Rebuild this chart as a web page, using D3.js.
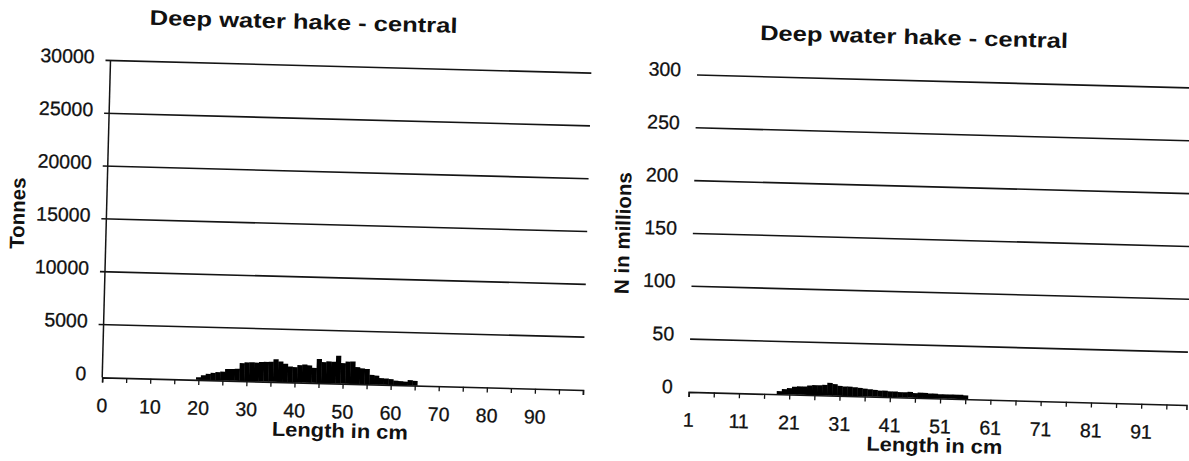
<!DOCTYPE html>
<html>
<head>
<meta charset="utf-8">
<script src="https://cdn.jsdelivr.net/npm/d3@7"></script>
<style>
  body { margin: 0; background: #fff; }
  svg { display: block; }
  text { font-family: "Liberation Sans", Arial, sans-serif; fill: #111; }
</style>
</head>
<body>
<svg id="chart" width="1189" height="461"></svg>
<script>
// Length classes (cm) and catch weight in tonnes
const tonnesLengths = d3.range(20, 66);
const tonnes = [
  250, 450, 600, 700, 780, 850, 1100, 1120, 1150, 1700,
  1780, 1800, 1780, 1850, 1880, 1900, 2150, 1950, 1750, 1500,
  1450, 1650, 1720, 1650, 1420, 2280, 2000, 2080, 2050, 2630,
  1950, 2100, 2120, 1600, 1500, 1450, 900, 850, 620, 600,
  550, 420, 380, 350, 500, 450
];

// Length classes (cm) and numbers in millions
const numbersLengths = d3.range(19, 57);
const numbers = [
  3, 5, 6, 7.5, 8, 8, 9, 9.5, 9.5, 10,
  12, 11, 9.5, 9, 9, 8.5, 8, 7.5, 7, 6.5,
  6, 6, 5.5, 5.5, 5, 5, 5.5, 4.5, 5, 5,
  4.5, 4.5, 4, 4, 4, 4, 4, 3.5
];

const tonnesTicks = [0, 5000, 10000, 15000, 20000, 25000, 30000];
const numbersTicks = [0, 50, 100, 150, 200, 250, 300];
const tonnesXLabels = [0, 10, 20, 30, 40, 50, 60, 70, 80, 90];
const numbersXLabels = [1, 11, 21, 31, 41, 51, 61, 71, 81, 91];

const svg = d3.select("#chart");
const ink = "#141414";

function drawPanel(cfg) {
  const w = cfg.width, h = cfg.height;
  const g = svg.append("g")
    .attr("transform", `translate(${cfg.x},${cfg.y}) rotate(${cfg.angle})`);

  const x = d3.scaleLinear().domain(cfg.xDomain).range([0, w]);
  const y = d3.scaleLinear().domain([0, cfg.yMax]).range([h, 0]);

  // horizontal gridlines (value axis major gridlines)
  g.append("g").selectAll("line")
    .data(cfg.yTicks.filter(d => d > 0))
    .join("line")
    .attr("x1", cfg.yAxisLine ? -5 : 0)
    .attr("x2", w)
    .attr("y1", d => y(d)).attr("y2", d => y(d))
    .attr("stroke", ink).attr("stroke-width", 1.6);

  // value axis labels
  g.append("g").selectAll("text")
    .data(cfg.yTicks)
    .join("text")
    .attr("x", -16)
    .attr("y", d => y(d) + cfg.yLabelShift)
    .attr("dy", "0.35em")
    .attr("text-anchor", "end")
    .attr("font-size", 19.5)
    .attr("stroke", "#111").attr("stroke-width", 0.3)
    .text(d => d);

  if (cfg.yAxisLine) {
    g.append("line")
      .attr("x1", 0).attr("x2", 0).attr("y1", 0).attr("y2", h)
      .attr("stroke", ink).attr("stroke-width", 1.5);
  }

  // length-frequency bars
  g.append("g").selectAll("rect")
    .data(cfg.lengths.map((l, i) => ({ l, v: cfg.values[i] })))
    .join("rect")
    .attr("x", d => x(d.l - 0.5))
    .attr("width", d => x(d.l + 0.5) - x(d.l - 0.5) + 0.4)
    .attr("y", d => y(d.v))
    .attr("height", d => y(0) - y(d.v))
    .attr("fill", "#000");

  // category axis
  const axis = d3.axisBottom(x)
    .tickValues(d3.range(cfg.xDomain[0], cfg.xDomain[1] + 0.01, 5))
    .tickSize(5)
    .tickPadding(16)
    .tickFormat(d => cfg.xLabels.includes(d) ? d : "");
  const ax = g.append("g").attr("transform", `translate(0,${h})`).call(axis);
  ax.select(".domain").attr("stroke", ink).attr("stroke-width", 1.6);
  ax.selectAll(".tick line").attr("stroke", ink).attr("stroke-width", 1.3);
  ax.selectAll(".tick text")
    .attr("font-size", 19.5)
    .attr("font-family", "'Liberation Sans', Arial, sans-serif")
    .attr("fill", "#111")
    .attr("stroke", "#111").attr("stroke-width", 0.3);

  // titles
  g.append("text")
    .attr("x", cfg.titleX).attr("y", -44)
    .attr("dy", "0.35em")
    .attr("text-anchor", "middle")
    .attr("font-size", 21).attr("font-weight", "bold")
    .attr("textLength", 308).attr("lengthAdjust", "spacingAndGlyphs")
    .text(cfg.title);

  g.append("text")
    .attr("x", cfg.xTitleX).attr("y", 364)
    .attr("dy", "0.35em")
    .attr("text-anchor", "middle")
    .attr("font-size", 20).attr("font-weight", "bold")
    .attr("textLength", 136).attr("lengthAdjust", "spacingAndGlyphs")
    .text("Length in cm");

  g.append("text")
    .attr("transform", `translate(${cfg.yTitleX},${cfg.yTitleY}) rotate(-90)`)
    .attr("dy", "0.35em")
    .attr("text-anchor", "middle")
    .attr("font-size", 20.5).attr("font-weight", "bold")
    .text(cfg.yTitle);
}

drawPanel({
  x: 110.5, y: 60.5, angle: 1.5, width: 481, height: 317,
  xDomain: [0, 100], yMax: 30000, yTicks: tonnesTicks, yLabelShift: -3.5,
  xLabels: tonnesXLabels, lengths: tonnesLengths, values: tonnes,
  yAxisLine: true, title: "Deep water hake - central", titleX: 192,
  xTitleX: 239, yTitle: "Tonnes", yTitleX: -89, yTitleY: 155
});

drawPanel({
  x: 697, y: 75, angle: 1.5, width: 498, height: 317,
  xDomain: [1, 100], yMax: 300, yTicks: numbersTicks, yLabelShift: -5,
  xLabels: numbersXLabels, lengths: numbersLengths, values: numbers,
  yAxisLine: false, title: "Deep water hake - central", titleX: 216,
  xTitleX: 247, yTitle: "N in millions", yTitleX: -70, yTitleY: 160
});
</script>
</body>
</html>
